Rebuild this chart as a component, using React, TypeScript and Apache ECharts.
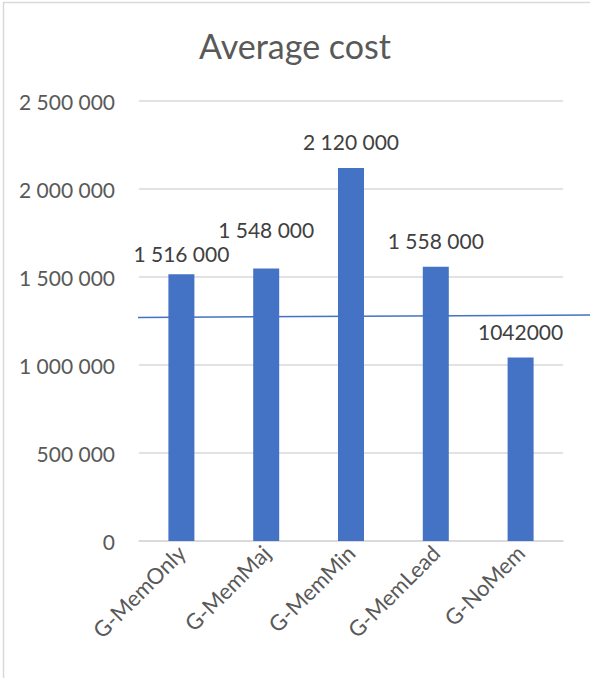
import React, { useEffect, useRef } from "react";
import * as echarts from "echarts";

const categories = ["G-MemOnly", "G-MemMaj", "G-MemMin", "G-MemLead", "G-NoMem"];
const costs = [1516000, 1548000, 2120000, 1558000, 1042000];
const costLabels = ["1 516 000", "1 548 000", "2 120 000", "1 558 000", "1042000"];
const yTicks = { min: 0, max: 2500000, interval: 500000 };
// hand-drawn reference line: [x position in category-width units, value]
const refLine = [
  [-0.03, 1270000],
  [5.32, 1284000],
];

const FONT = "Lato, 'Open Sans', sans-serif";

export default function App() {
  const ref = useRef<HTMLDivElement>(null);
  useEffect(() => {
    if (!ref.current) return;
    const chart = echarts.init(ref.current, null, { renderer: "svg" });
    // Excel nudged two labels to avoid overlap
    const labelDistance = (i: number) => (i === 0 ? 10 : i === 1 ? 29 : 16);
    chart.setOption({
      animation: false,
      backgroundColor: "#ffffff",
      title: {
        text: "Average cost",
        left: "center",
        top: 23,
        textStyle: { fontFamily: FONT, fontSize: 34, fontWeight: "normal", color: "#595959" },
      },
      graphic: [
        {
          type: "rect",
          shape: { x: 3.5, y: 2.5, width: 700, height: 800 },
          style: { fill: "none", stroke: "#d9d9d9", lineWidth: 1.5 },
          silent: true,
        },
      ],
      grid: [
        { left: 139, right: 27, top: 101, bottom: 137, containLabel: false },
        { left: 139, right: 0, top: 101, bottom: 137, containLabel: false },
      ],
      xAxis: [
        {
          type: "category",
          gridIndex: 0,
          data: categories,
          axisLine: { show: true, lineStyle: { color: "#d9d9d9", width: 1.5 } },
          axisTick: { show: false },
          axisLabel: {
            rotate: 45,
            interval: 0,
            margin: 8,
            fontFamily: FONT,
            fontSize: 22,
            color: "#595959",
          },
        },
        {
          type: "value",
          gridIndex: 1,
          min: 0,
          max: 5.32,
          show: false,
        },
      ],
      yAxis: [
        {
          type: "value",
          gridIndex: 0,
          min: yTicks.min,
          max: yTicks.max,
          interval: yTicks.interval,
          axisLine: { show: false },
          axisTick: { show: false },
          splitLine: { lineStyle: { color: "#d9d9d9", width: 1.5 } },
          axisLabel: {
            margin: 24,
            fontFamily: FONT,
            fontSize: 21,
            color: "#595959",
            formatter: (v: number) => String(v).replace(/\B(?=(\d{3})+(?!\d))/g, " "),
          },
        },
        {
          type: "value",
          gridIndex: 1,
          min: yTicks.min,
          max: yTicks.max,
          show: false,
        },
      ],
      series: [
        {
          type: "bar",
          xAxisIndex: 0,
          yAxisIndex: 0,
          data: costs.map((v, i) => ({
            value: v,
            label: { distance: labelDistance(i) },
          })),
          barWidth: 26,
          itemStyle: { color: "#4472c4" },
          label: {
            show: true,
            position: "top",
            fontFamily: FONT,
            fontSize: 21,
            color: "#404040",
            formatter: (p: any) => costLabels[p.dataIndex],
          },
          z: 2,
        },
        {
          type: "line",
          xAxisIndex: 1,
          yAxisIndex: 1,
          data: refLine,
          symbol: "none",
          clip: false,
          lineStyle: { color: "#4472c4", width: 1.5 },
          z: 3,
        },
      ],
    });
    return () => chart.dispose();
  }, []);
  return (
    <div
      ref={ref}
      style={{ position: "fixed", left: 0, top: 0, width: 590, height: 678 }}
    />
  );
}
